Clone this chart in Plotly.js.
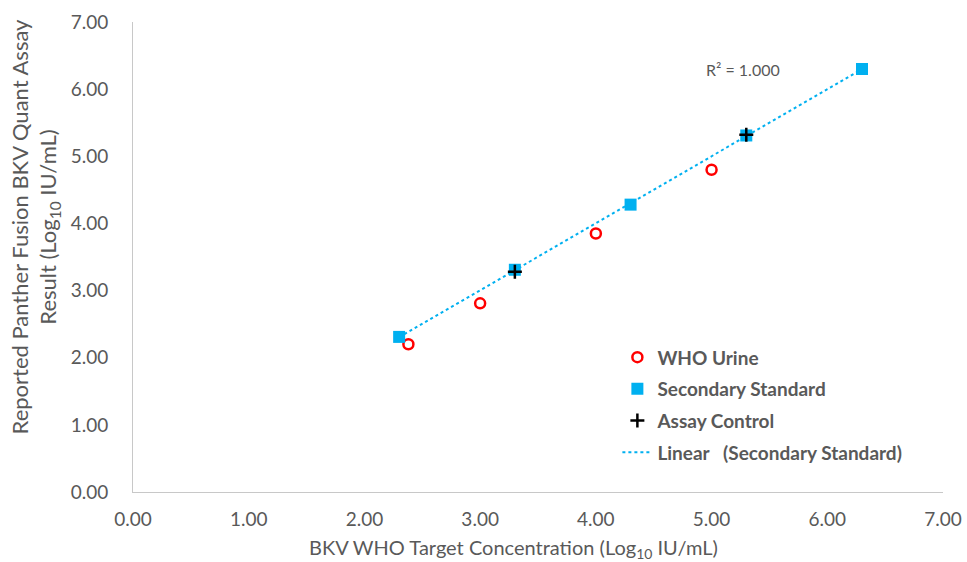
<!DOCTYPE html>
<html>
<head>
<meta charset="utf-8">
<script src="https://cdn.plot.ly/plotly-3.0.1.min.js"></script>
<style>html,body{margin:0;padding:0;background:#fff}#chart{width:967px;height:562px}</style>
</head>
<body>
<div id="chart"></div>
<script>
// Data
const whoUrineX = [2.38, 3.00, 4.00, 5.00];
const whoUrineY = [2.20, 2.81, 3.85, 4.80];
const secStdX = [2.30, 3.30, 4.30, 5.30, 6.30];
const secStdY = [2.31, 3.31, 4.28, 5.31, 6.30];
const ctrlX = [3.30, 5.30];
const ctrlY = [3.28, 5.32];
const tickVals = [0, 1, 2, 3, 4, 5, 6, 7];
const tickText = ["0.00", "1.00", "2.00", "3.00", "4.00", "5.00", "6.00", "7.00"];

// Linear trendline (least squares) of the Secondary Standard
const n = secStdX.length;
const mx = secStdX.reduce((a, b) => a + b, 0) / n;
const my = secStdY.reduce((a, b) => a + b, 0) / n;
let sxy = 0, sxx = 0;
for (let i = 0; i < n; i++) { sxy += (secStdX[i] - mx) * (secStdY[i] - my); sxx += (secStdX[i] - mx) ** 2; }
const slope = sxy / sxx, icpt = my - slope * mx;
const fitX = [Math.min(...secStdX), Math.max(...secStdX)];
const fitY = fitX.map(x => icpt + slope * x);

const FONT = "Lato, 'Open Sans', sans-serif";
const GREY = "#595959";

const traces = [
  { x: fitX, y: fitY, mode: "lines", type: "scatter", name: "Linear\u00a0\u00a0\u00a0(Secondary Standard)", legendgroup: "d", legendrank: 4,
    line: { color: "#00B0F0", width: 2, dash: "dot" } },
  { x: whoUrineX, y: whoUrineY, mode: "markers", type: "scatter", name: "WHO Urine", legendgroup: "a", legendrank: 1,
    marker: { symbol: "circle-open", size: 10, color: "#FF0000", line: { width: 2.5, color: "#FF0000" } } },
  { x: secStdX, y: secStdY, mode: "markers", type: "scatter", name: "Secondary Standard", legendgroup: "b", legendrank: 2,
    marker: { symbol: "square", size: 12, color: "#00B0F0" } },
  { x: ctrlX, y: ctrlY, mode: "markers", type: "scatter", name: "Assay Control", legendgroup: "c", legendrank: 3,
    marker: { symbol: "cross-thin-open", size: 10, color: "#000000", line: { width: 2.5, color: "#000000" } } }
];

const layout = {
  width: 967, height: 562,
  margin: { l: 133, r: 24, t: 22, b: 70 },
  paper_bgcolor: "#fff", plot_bgcolor: "#fff",
  font: { family: FONT, color: GREY, size: 19 },
  showlegend: true,
  legend: {
    x: 0.598, y: 0.327, xanchor: "left", yanchor: "top",
    traceorder: "grouped", tracegroupgap: 4,
    font: { family: FONT, size: 19, color: GREY, weight: "bold" },
    bgcolor: "rgba(0,0,0,0)"
  },
  xaxis: {
    range: [0, 7], tickvals: tickVals, ticktext: tickText,
    showgrid: false, zeroline: false, showline: true, linecolor: "#C8C8C8", linewidth: 1,
    ticks: "", ticklabelstandoff: 10,
    tickfont: { family: FONT, size: 19, color: GREY }
  },
  yaxis: {
    range: [0, 7], tickvals: tickVals, ticktext: tickText,
    showgrid: false, zeroline: false, showline: true, linecolor: "#C8C8C8", linewidth: 1,
    ticks: "", ticklabelstandoff: 20,
    tickfont: { family: FONT, size: 19, color: GREY }
  },
  annotations: [
    { x: 5.27, y: 6.30, xref: "x", yref: "y", text: "R\u00b2 = 1.000", showarrow: false,
      font: { family: FONT, size: 16, color: GREY } },
    { x: 0.47, y: -0.121, xref: "paper", yref: "paper", xanchor: "center", yanchor: "middle",
      text: "BKV WHO Target Concentration (Log<sub>10</sub> IU/mL)", showarrow: false,
      font: { family: FONT, size: 20, color: GREY } },
    { x: -0.121, y: 0.565, xref: "paper", yref: "paper", xanchor: "center", yanchor: "middle", textangle: -90,
      text: "Reported Panther Fusion BKV Quant Assay<br>Result (Log<sub>10</sub> IU/mL)", showarrow: false,
      font: { family: FONT, size: 22, color: GREY } }
  ]
};

Plotly.newPlot("chart", traces, layout, { displayModeBar: false, staticPlot: true });
</script>
</body>
</html>
